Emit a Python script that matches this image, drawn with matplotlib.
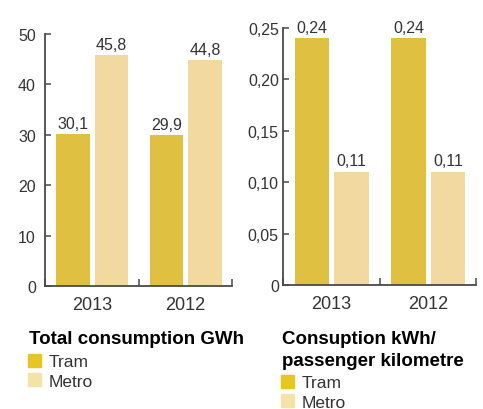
import matplotlib
matplotlib.use("Agg")
import matplotlib.pyplot as plt
from matplotlib.patches import Patch
from matplotlib.ticker import FixedLocator, FuncFormatter

plt.rcParams["font.family"] = ["Liberation Sans", "DejaVu Sans"]

years = ["2013", "2012"]
total_tram = [30.1, 29.9]
total_metro = [45.8, 44.8]
per_km_tram = [0.24, 0.24]
per_km_metro = [0.11, 0.11]

total_ticks = [0, 10, 20, 30, 40, 50]
per_km_ticks = [0, 0.05, 0.10, 0.15, 0.20, 0.25]

TRAM_BAR = "#DFC040"
METRO_BAR = "#F2D9A0"
TRAM_KEY = "#E7C523"
METRO_KEY = "#F5E2A6"
TEXT = "#333333"
SPINE = "#4a4a4a"

W, H = 483, 410
fig = plt.figure(figsize=(W / 100, H / 100), dpi=100)


def comma(v, decimals):
    if v == 0:
        return "0"
    return f"{v:.{decimals}f}".replace(".", ",")


def panel(rect, tram, metro, ticks, ymax, tick_dec, val_dec, ypad):
    ax = fig.add_axes(rect)
    xs = [i + 0.5 for i in range(len(years))]
    w = 0.36
    tb = ax.bar([x - 0.2 for x in xs], tram, w, color=TRAM_BAR, zorder=2)
    mb = ax.bar([x + 0.21 for x in xs], metro, w, color=METRO_BAR, zorder=2)
    for bars, vals in ((tb, tram), (mb, metro)):
        for b, v in zip(bars, vals):
            ax.annotate(comma(v, val_dec), (b.get_x() + b.get_width() / 2, v),
                        xytext=(0, 2.5), textcoords="offset points",
                        ha="center", va="bottom", fontsize=11.5, color=TEXT,
                        annotation_clip=False)
    ax.set_xlim(0, len(years))
    ax.set_ylim(0, ymax)
    for s in ("top", "right"):
        ax.spines[s].set_visible(False)
    for s in ("left", "bottom"):
        ax.spines[s].set_color(SPINE)
        ax.spines[s].set_linewidth(1.3)
    ax.yaxis.set_major_locator(FixedLocator(ticks))
    ax.yaxis.set_major_formatter(FuncFormatter(lambda v, p: comma(v, tick_dec)))
    ax.tick_params(axis="y", direction="in", length=4, width=1.1, color=SPINE,
                   labelsize=11.5, labelcolor=TEXT, pad=ypad)
    ax.xaxis.set_major_locator(FixedLocator(range(len(years) + 1)))
    ax.xaxis.set_minor_locator(FixedLocator(xs))
    ax.xaxis.set_major_formatter(FuncFormatter(lambda v, p: ""))
    ax.set_xticklabels(years, minor=True)
    ax.tick_params(axis="x", which="major", direction="in", length=5, width=1.1,
                   color=SPINE)
    ax.tick_params(axis="x", which="minor", length=0, labelsize=13,
                   labelcolor=TEXT, pad=7)
    return ax


panel([45 / W, 1 - 287 / H, 187 / W, 252 / H], total_tram, total_metro,
      total_ticks, 50, 0, 1, 6.5)
panel([283 / W, 1 - 286 / H, 193 / W, 257 / H], per_km_tram, per_km_metro,
      per_km_ticks, 0.25, 2, 2, 3)

handles = [Patch(color=TRAM_KEY), Patch(color=METRO_KEY)]
labels = ["Tram", "Metro"]

title_kw = dict(fontsize=13.5, fontweight="bold", color="black",
                va="baseline", ha="left")
fig.text(29 / W, 1 - 344 / H, "Total consumption GWh", **title_kw)
fig.text(282 / W, 1 - 344 / H, "Consuption kWh/", **title_kw)
fig.text(282 / W, 1 - 366 / H, "passenger kilometre", **title_kw)

leg_kw = dict(loc="upper left", frameon=False, fontsize=12.5, borderpad=0,
              borderaxespad=0, handlelength=0.75, handleheight=0.75,
              handletextpad=0.45, labelspacing=0.22, labelcolor=TEXT)
fig.legend(handles, labels, bbox_to_anchor=(28 / W, 1 - 355 / H), **leg_kw)
fig.legend(handles, labels, bbox_to_anchor=(281 / W, 1 - 376 / H), **leg_kw)

fig.savefig("out.png", dpi=100)
